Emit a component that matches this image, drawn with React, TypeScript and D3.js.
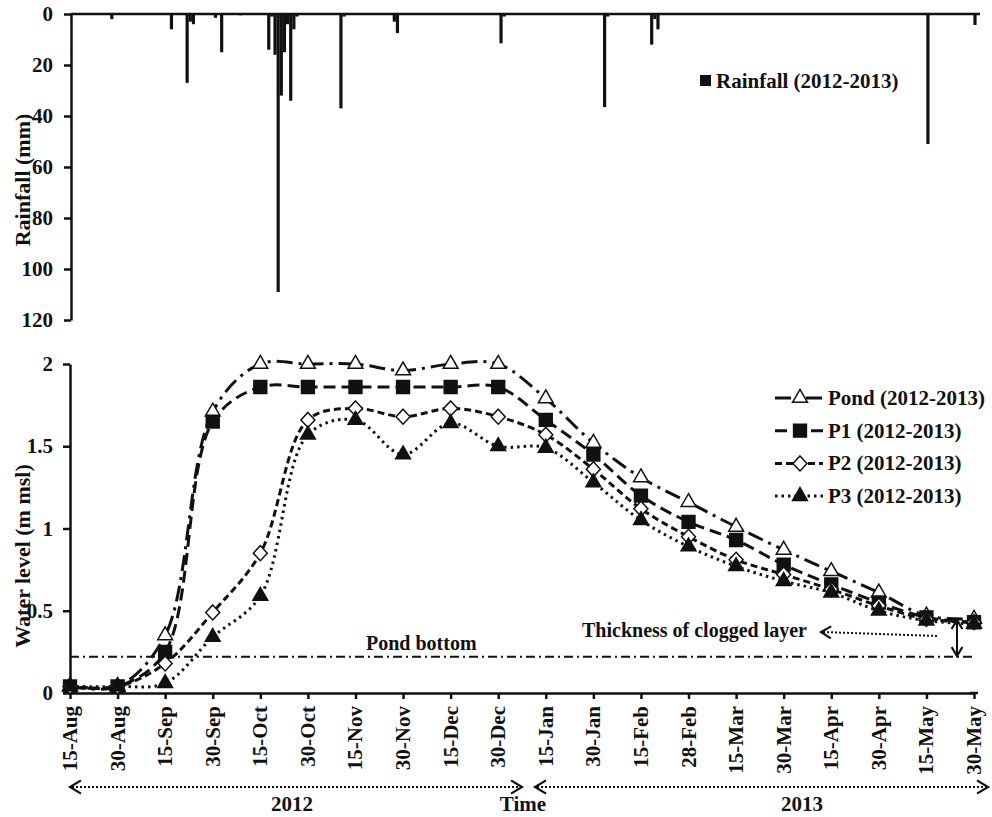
import { useRef, useEffect } from 'react';
import * as d3 from 'd3';

const FONT = '"Liberation Serif", "Times New Roman", serif';
const INK = '#111';

// water level panel
const DATES = ['15-Aug', '30-Aug', '15-Sep', '30-Sep', '15-Oct', '30-Oct', '15-Nov', '30-Nov', '15-Dec', '30-Dec',
  '15-Jan', '30-Jan', '15-Feb', '28-Feb', '15-Mar', '30-Mar', '15-Apr', '30-Apr', '15-May', '30-May'];
const POND = [0.04, 0.04, 0.35, 1.71, 2.0, 2.0, 2.0, 1.96, 2.0, 2.0, 1.79, 1.52, 1.31, 1.16, 1.01, 0.87, 0.74, 0.61, 0.47, 0.45];
const P1 = [0.04, 0.04, 0.25, 1.65, 1.86, 1.86, 1.86, 1.86, 1.86, 1.86, 1.66, 1.45, 1.2, 1.04, 0.93, 0.78, 0.66, 0.55, 0.46, 0.43];
const P2 = [0.04, 0.04, 0.18, 0.49, 0.85, 1.66, 1.73, 1.68, 1.73, 1.68, 1.57, 1.36, 1.12, 0.95, 0.81, 0.72, 0.63, 0.53, 0.45, 0.43];
const P3 = [0.04, 0.04, 0.06, 0.34, 0.59, 1.57, 1.66, 1.45, 1.64, 1.5, 1.49, 1.28, 1.05, 0.89, 0.77, 0.68, 0.61, 0.5, 0.44, 0.42];
const WL_TICKS = [0, 0.5, 1, 1.5, 2];
const POND_BOTTOM = 0.22;

// daily rainfall
const RAIN_START = '2012-08-15';
const RAIN_END = '2013-05-30';
const RAIN_DAYS = ['2012-08-28', '2012-09-16', '2012-09-21', '2012-09-22', '2012-09-23', '2012-09-30', '2012-10-02',
  '2012-10-08', '2012-10-17', '2012-10-18', '2012-10-19', '2012-10-20', '2012-10-21', '2012-10-22', '2012-10-23',
  '2012-10-24', '2012-10-25', '2012-10-26', '2012-11-09', '2012-11-10', '2012-11-26', '2012-11-27', '2012-12-30',
  '2012-12-31', '2013-02-01', '2013-02-02', '2013-02-16', '2013-02-17', '2013-02-18', '2013-05-15', '2013-05-30'];
const RAIN_MM = [2, 6, 27, 3, 4, 1.5, 15, 0.5, 14, 1, 16, 109, 32, 15, 4, 34, 6, 1, 37, 1, 3, 7.5, 11.5, 1, 36.5, 1, 12, 2, 6, 51, 4.3];
const RAIN_TICKS = [0, 20, 40, 60, 80, 100, 120];

const SERIES = [
  { name: 'Pond (2012-2013)', values: POND, dash: '16,6,3,6', marker: 'tri', fill: '#fff' },
  { name: 'P1 (2012-2013)', values: P1, dash: '12,6', marker: 'sq', fill: INK },
  { name: 'P2 (2012-2013)', values: P2, dash: '7,4', marker: 'dia', fill: '#fff' },
  { name: 'P3 (2012-2013)', values: P3, dash: '2.5,4', marker: 'tri', fill: INK },
];

const markerPath = (kind: string) => {
  if (kind === 'tri') return d3.symbol().type(d3.symbolTriangle).size(95)();
  if (kind === 'sq') return d3.symbol().type(d3.symbolSquare).size(165)();
  return 'M0,-7.5L7,0L0,7.5L-7,0Z';
};

const chevron = (g, x, y, angle, len = 11) => {
  // open arrow head, tip at (x, y), pointing along angle (deg)
  g.append('path')
    .attr('d', `M${-len},${-len * 0.6}L0,0L${-len},${len * 0.6}`)
    .attr('transform', `translate(${x},${y}) rotate(${angle})`)
    .attr('fill', 'none').attr('stroke', INK).attr('stroke-width', 2.2);
};

export default function App() {
  const svgRef = useRef<SVGSVGElement>(null);

  useEffect(() => {
    const svg = d3.select(svgRef.current);
    svg.selectAll('*').remove();
    svg.attr('font-family', FONT).attr('font-weight', 'bold').attr('fill', INK);

    // ---------- rainfall panel ----------
    const parse = d3.timeParse('%Y-%m-%d');
    const xRain = d3.scaleTime().domain([parse(RAIN_START), parse(RAIN_END)]).range([71, 975]);
    const yRain = d3.scaleLinear().domain([0, 120]).range([14, 320]);

    const top = svg.append('g');
    top.selectAll('rect.bar')
      .data(RAIN_DAYS)
      .join('rect')
      .attr('x', (d) => xRain(parse(d)) - 1.6)
      .attr('y', yRain(0))
      .attr('width', 3.2)
      .attr('height', (d, i) => yRain(RAIN_MM[i]) - yRain(0))
      .attr('fill', INK);

    top.append('line')
      .attr('x1', 71).attr('x2', 980).attr('y1', yRain(0)).attr('y2', yRain(0))
      .attr('stroke', INK).attr('stroke-width', 2.5);

    top.append('g')
      .attr('transform', 'translate(71,0)')
      .call(d3.axisLeft(yRain).tickValues(RAIN_TICKS).tickSize(7).tickSizeOuter(0).tickPadding(11))
      .call((g) => g.select('.domain').attr('stroke', INK).attr('stroke-width', 2.5))
      .call((g) => g.selectAll('.tick line').attr('stroke', INK).attr('stroke-width', 2.5))
      .call((g) => g.selectAll('text').attr('fill', INK).attr('font-family', FONT).attr('font-weight', 'bold').style('font-size', '21px'));

    top.append('text')
      .attr('transform', `translate(30,${(yRain(0) + yRain(120)) / 2 + 13}) rotate(-90)`)
      .attr('text-anchor', 'middle').style('font-size', '22px')
      .text('Rainfall (mm)');

    top.append('rect').attr('x', 700).attr('y', 75).attr('width', 11).attr('height', 11).attr('fill', INK);
    top.append('text').attr('x', 716).attr('y', 88).style('font-size', '21px').text('Rainfall (2012-2013)');

    // ---------- water level panel ----------
    const x = d3.scalePoint().domain(DATES).range([70, 974]);
    const y = d3.scaleLinear().domain([0, 2]).range([693, 364]);

    const bot = svg.append('g');

    bot.append('line')
      .attr('x1', 70).attr('x2', 972).attr('y1', y(POND_BOTTOM)).attr('y2', y(POND_BOTTOM))
      .attr('stroke', INK).attr('stroke-width', 2).attr('stroke-dasharray', '9,4,2,4');

    bot.append('g')
      .attr('transform', 'translate(70,0)')
      .call(d3.axisLeft(y).tickValues(WL_TICKS).tickFormat((d) => String(d)).tickSize(7).tickSizeOuter(0).tickPadding(10))
      .call((g) => g.select('.domain').attr('stroke', INK).attr('stroke-width', 2.5))
      .call((g) => g.selectAll('.tick line').attr('stroke', INK).attr('stroke-width', 2.5))
      .call((g) => g.selectAll('text').attr('fill', INK).attr('font-family', FONT).attr('font-weight', 'bold').style('font-size', '21px'));

    bot.append('g')
      .attr('transform', `translate(0,${y(0)})`)
      .call(d3.axisBottom(x).tickSize(6).tickSizeOuter(0).tickFormat(() => ''))
      .call((g) => g.select('.domain').attr('stroke', INK).attr('stroke-width', 2.5))
      .call((g) => g.selectAll('.tick line').attr('stroke', INK).attr('stroke-width', 2.5));
    bot.append('line').attr('x1', 970).attr('x2', 978).attr('y1', y(0)).attr('y2', y(0))
      .attr('stroke', INK).attr('stroke-width', 2.5);

    DATES.forEach((d) => {
      bot.append('text')
        .attr('transform', `translate(${x(d) + 7},706) rotate(-90)`)
        .attr('text-anchor', 'end').style('font-size', '21px')
        .text(d);
    });

    bot.append('text')
      .attr('transform', `translate(30,556) rotate(-90)`)
      .attr('text-anchor', 'middle').style('font-size', '22px')
      .text('Water level (m msl)');

    const line = d3.line<number>()
      .x((d, i) => x(DATES[i]))
      .y((d) => y(d))
      .curve(d3.curveCatmullRom.alpha(0.5));

    SERIES.forEach((s) => {
      bot.append('path')
        .attr('d', line(s.values))
        .attr('fill', 'none').attr('stroke', INK).attr('stroke-width', 3)
        .attr('stroke-dasharray', s.dash);
    });
    SERIES.forEach((s) => {
      bot.selectAll(null)
        .data(s.values)
        .join('path')
        .attr('d', markerPath(s.marker))
        .attr('transform', (d, i) => `translate(${x(DATES[i])},${y(d)})`)
        .attr('fill', s.fill).attr('stroke', INK).attr('stroke-width', 1.5);
    });

    // legend
    const leg = bot.append('g');
    SERIES.forEach((s, i) => {
      const ly = 398 + i * 32.7;
      leg.append('line').attr('x1', 775).attr('x2', 823).attr('y1', ly).attr('y2', ly)
        .attr('stroke', INK).attr('stroke-width', 3).attr('stroke-dasharray', s.dash);
      leg.append('path').attr('d', markerPath(s.marker))
        .attr('transform', `translate(800,${ly})`)
        .attr('fill', s.fill).attr('stroke', INK).attr('stroke-width', 1.5);
      leg.append('text').attr('x', 828).attr('y', ly + 7).style('font-size', '21px').text(s.name);
    });

    // annotations
    bot.append('text').attr('x', 366).attr('y', 650).style('font-size', '20px').text('Pond bottom');
    bot.append('text').attr('x', 582).attr('y', 637).style('font-size', '20px').text('Thickness of clogged layer');
    bot.append('line').attr('x1', 937).attr('y1', 636).attr('x2', 823).attr('y2', 632)
      .attr('stroke', INK).attr('stroke-width', 2).attr('stroke-dasharray', '2,2');
    chevron(bot, 821, 632, 182, 10);

    bot.append('line').attr('x1', 957).attr('x2', 957).attr('y1', 621).attr('y2', 655)
      .attr('stroke', INK).attr('stroke-width', 2);
    chevron(bot, 957, 620, -90, 9);
    chevron(bot, 957, 656, 90, 9);

    // year spans
    const yy = 787;
    [[70, 522], [535, 988]].forEach(([a, b]) => {
      bot.append('line').attr('x1', a + 2).attr('x2', b - 2).attr('y1', yy).attr('y2', yy)
        .attr('stroke', INK).attr('stroke-width', 2).attr('stroke-dasharray', '2,2');
      chevron(bot, a, yy, 180, 11);
      chevron(bot, b, yy, 0, 11);
    });
    bot.append('text').attr('x', 292).attr('y', 811).attr('text-anchor', 'middle').style('font-size', '21px').text('2012');
    bot.append('text').attr('x', 523).attr('y', 811).attr('text-anchor', 'middle').style('font-size', '21px').text('Time');
    bot.append('text').attr('x', 802).attr('y', 811).attr('text-anchor', 'middle').style('font-size', '21px').text('2013');
  }, []);

  return (
    <svg ref={svgRef} width={992} height={817}
      style={{ position: 'absolute', left: 0, top: 0, background: '#fff' }} />
  );
}
